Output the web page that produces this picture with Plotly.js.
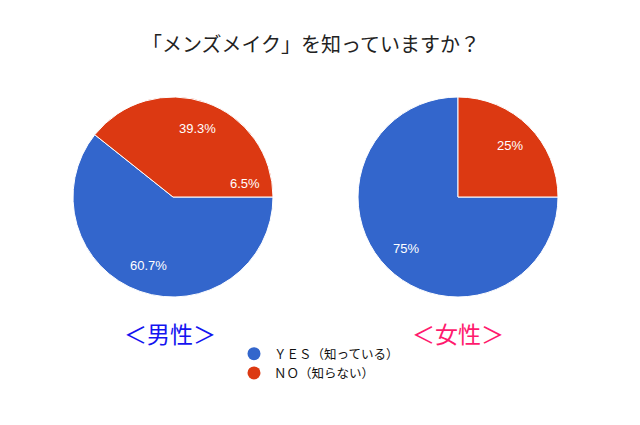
<!DOCTYPE html>
<html>
<head>
<meta charset="utf-8">
<script src="https://cdn.plot.ly/plotly-3.0.1.min.js"></script>
<style>
  html, body { margin: 0; padding: 0; background: #fff; }
  #chart { width: 640px; height: 425px; }
</style>
</head>
<body>
<div id="chart"></div>
<script>
const answers = ['ＹＥＳ（知っている）', 'ＮＯ（知らない）']
const menValues = [60.7, 39.3]
const womenValues = [75, 25]
const groupLabels = ['＜男性＞', '＜女性＞']
const strayLabel = '6.5%'
const colors = ['#3366cc', '#dc3912']

const jpFont = '"Noto Sans CJK JP", "Noto Sans", sans-serif'
const numFont = 'Arial, "Liberation Sans", sans-serif'

const W = 640
const H = 425
const pieY = [128 / H, 328 / H]
const pieDomains = [[73 / W, 273 / W], [358 / W, 558 / W]]

function pieTrace (values, domainX) {
  return {
    type: 'pie',
    labels: answers,
    values: values,
    sort: false,
    direction: 'clockwise',
    rotation: 90,
    marker: { colors: colors, line: { color: '#ffffff', width: 1 } },
    textinfo: 'none',
    hoverinfo: 'label+percent',
    showlegend: false,
    domain: { x: domainX, y: pieY },
  }
}

// percent labels sit at ~0.73 of the radius, slices run clockwise from 3 o'clock
function percentLabels (values, domainX) {
  const total = values.reduce((a, b) => a + b, 0)
  const cx = (domainX[0] + domainX[1]) / 2 * W
  const cy = (1 - (pieY[0] + pieY[1]) / 2) * H
  const r = (domainX[1] - domainX[0]) * W / 2 * 0.73
  let start = 0
  return values.map(v => {
    const a = (start + v / total * 180) * Math.PI / 180
    start += v / total * 360
    return {
      text: v + '%',
      x: (cx + r * Math.cos(a)) / W,
      y: 1 - (cy + r * Math.sin(a)) / H,
      xref: 'paper', yref: 'paper',
      xanchor: 'center', yanchor: 'middle',
      showarrow: false,
      font: { family: numFont, size: 13, color: '#ffffff' },
    }
  })
}

const data = [
  pieTrace(menValues, pieDomains[0]),
  pieTrace(womenValues, pieDomains[1]),
]

// legend entries with round markers
answers.forEach((a, i) => {
  data.push({
    type: 'scatter',
    mode: 'markers',
    x: [null],
    y: [null],
    name: a,
    marker: { color: colors[i], size: 13, symbol: 'circle' },
    hoverinfo: 'skip',
  })
})

const annotations = [
  {
    text: groupLabels[0],
    x: 170 / W, y: 1 - 333 / H,
    xref: 'paper', yref: 'paper',
    xanchor: 'center', yanchor: 'middle',
    showarrow: false,
    font: { family: jpFont, size: 23, color: '#1414f0' },
  },
  {
    text: groupLabels[1],
    x: 458 / W, y: 1 - 333 / H,
    xref: 'paper', yref: 'paper',
    xanchor: 'center', yanchor: 'middle',
    showarrow: false,
    font: { family: jpFont, size: 23, color: '#ff1a6e' },
  },
  {
    text: strayLabel,
    x: 245 / W, y: 1 - 184 / H,
    xref: 'paper', yref: 'paper',
    xanchor: 'center', yanchor: 'middle',
    showarrow: false,
    font: { family: numFont, size: 13, color: '#ffffff' },
  },
]
  .concat(percentLabels(menValues, pieDomains[0]))
  .concat(percentLabels(womenValues, pieDomains[1]))

const layout = {
  width: W,
  height: H,
  margin: { l: 0, r: 0, t: 0, b: 0 },
  paper_bgcolor: '#ffffff',
  plot_bgcolor: '#ffffff',
  title: {
    text: '「メンズメイク」を知っていますか？',
    font: { family: jpFont, size: 20, color: '#222222' },
    x: 311 / W,
    xanchor: 'center',
    y: 1 - 45 / H,
    yanchor: 'middle',
  },
  xaxis: { visible: false },
  yaxis: { visible: false },
  legend: {
    x: 234 / W,
    xanchor: 'left',
    y: 1 - 339 / H,
    yanchor: 'top',
    font: { family: jpFont, size: 12.5, color: '#111111' },
    tracegroupgap: 0,
    itemwidth: 30,
    bgcolor: 'rgba(0,0,0,0)',
  },
  annotations: annotations,
}

Plotly.newPlot('chart', data, layout, { displayModeBar: false, responsive: false })
</script>
</body>
</html>
